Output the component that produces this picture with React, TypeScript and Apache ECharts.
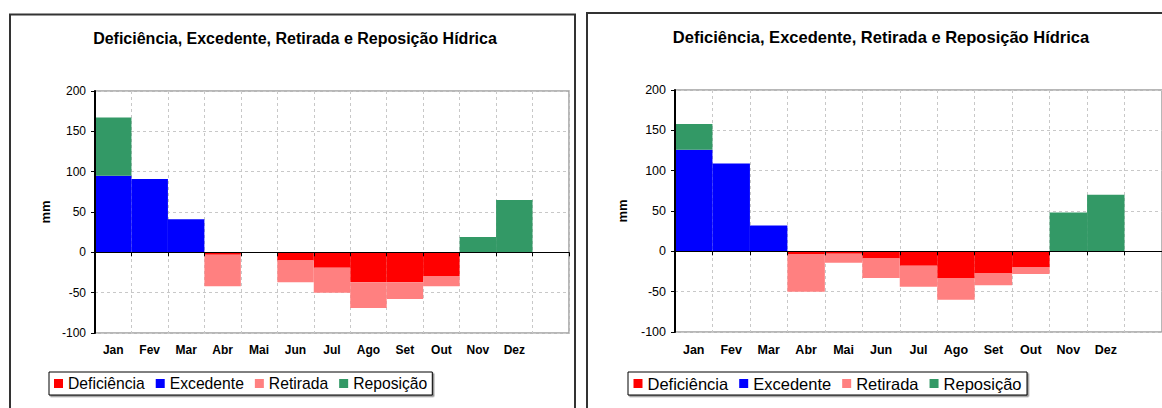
import React, { useEffect, useRef } from "react";
import * as echarts from "echarts";

const months = ["Jan", "Fev", "Mar", "Abr", "Mai", "Jun", "Jul", "Ago", "Set", "Out", "Nov", "Dez"];
const axisCategories = [...months, ""];
const seriesNames = ["Deficiência", "Excedente", "Retirada", "Reposição"];
const titleText = "Deficiência, Excedente, Retirada e Reposição Hídrica";
const yTicks = { min: -100, max: 200, interval: 50 };

// Left chart
const deficienciaA = [0, 0, 0, -3, 0, -10, -19, -37, -37, -30, 0, 0];
const excedenteA = [95, 91, 41, 0, 0, 0, 0, 0, 0, 0, 0, 0];
const retiradaA = [0, 0, 0, -39, 0, -27, -31, -32, -21, -12, 0, 0];
const reposicaoA = [72, 0, 0, 0, 0, 0, 0, 0, 0, 0, 19, 65];

// Right chart
const deficienciaB = [0, 0, 0, -4, -3, -9, -18, -33, -27, -20, 0, 0];
const excedenteB = [126, 109, 32, 0, 0, 0, 0, 0, 0, 0, 0, 0];
const retiradaB = [0, 0, 0, -46, -11, -24, -26, -27, -15, -8, 0, 0];
const reposicaoB = [32, 0, 0, 0, 0, 0, 0, 0, 0, 0, 48, 70];

const colors = ["#FF0000", "#0000FF", "#FF8080", "#339966"];
const FONT = "'Liberation Sans', Arial, sans-serif";

export default function App() {
  const ref = useRef<HTMLDivElement>(null);
  useEffect(() => {
    if (!ref.current) return;
    const chart = echarts.init(ref.current, undefined, { renderer: "svg" });

    const grids = [
      { left: 95, top: 91, width: 474, height: 242 },
      { left: 675, top: 90, width: 494, height: 242 },
    ];
    const sizes = [
      { label: 12, legend: 15.7, title: 16, gap: 11, lpad: [3.5, 5] },
      { label: 12.5, legend: 16.5, title: 16.5, gap: 11, lpad: [3, 5.5] },
    ];

    const xAxis: any[] = [];
    const yAxis: any[] = [];
    grids.forEach((g, i) => {
      xAxis.push({
        type: "category",
        gridIndex: i,
        data: axisCategories,
        position: "bottom",
        axisLine: { show: false, onZero: false },
        axisTick: { show: false },
        axisLabel: {
          color: "#000",
          fontWeight: "bold",
          fontSize: sizes[i].label,
          fontFamily: FONT,
          margin: 11,
          interval: 0,
        },
        splitLine: { show: true, lineStyle: { color: "#c8c8c8", type: [3, 3], width: 1 } },
        z: 0,
      });
      xAxis.push({
        type: "category",
        gridIndex: i,
        data: axisCategories,
        position: "top",
        axisLine: { show: true, onZero: true, lineStyle: { color: "#000", width: 1 } },
        axisTick: { show: true, inside: true, length: 4, lineStyle: { color: "#000" } },
        axisLabel: { show: false },
        splitLine: { show: false },
        z: 3,
      });
      yAxis.push({
        type: "value",
        gridIndex: i,
        position: "right",
        ...yTicks,
        axisLine: { show: false },
        axisTick: { show: false },
        axisLabel: { show: false },
        splitLine: { show: true, lineStyle: { color: "#c8c8c8", type: [3, 3], width: 1 } },
        z: 0,
      });
      yAxis.push({
        type: "value",
        gridIndex: i,
        position: "left",
        ...yTicks,
        name: "mm",
        nameLocation: "middle",
        nameGap: i === 0 ? 43 : 46,
        nameTextStyle: { color: "#000", fontWeight: "bold", fontSize: 13, fontFamily: FONT },
        axisLine: { show: true, onZero: false, lineStyle: { color: "#000", width: 2 } },
        axisTick: { show: true, length: 4, lineStyle: { color: "#000" } },
        axisLabel: { color: "#000", fontSize: sizes[i].label, fontFamily: FONT, margin: 9 },
        splitLine: { show: false },
        z: 3,
      });
    });

    const dataSets = [
      [deficienciaA, excedenteA, retiradaA, reposicaoA],
      [deficienciaB, excedenteB, retiradaB, reposicaoB],
    ];
    const series: any[] = [];
    dataSets.forEach((set, i) => {
      set.forEach((d, k) => {
        series.push({
          type: "bar",
          name: seriesNames[k],
          xAxisIndex: i * 2,
          yAxisIndex: i * 2,
          stack: "s" + i,
          data: d,
          barCategoryGap: "0%",
          itemStyle: { color: colors[k] },
          z: 2,
        });
      });
    });

    const legendPos = [
      { left: 49, top: 372 },
      { left: 628, top: 372 },
    ];

    chart.setOption({
      animation: false,
      color: colors,
      title: [
        {
          text: titleText,
          left: 290,
          top: 25,
          textAlign: "center",
          textStyle: { color: "#000", fontWeight: "bold", fontSize: sizes[0].title, fontFamily: FONT },
        },
        {
          text: titleText,
          left: 876,
          top: 23,
          textAlign: "center",
          textStyle: { color: "#000", fontWeight: "bold", fontSize: sizes[1].title, fontFamily: FONT },
        },
      ],
      legend: legendPos.map((p, i) => ({
        ...p,
        data: seriesNames,
        orient: "horizontal",
        icon: "rect",
        itemWidth: 9,
        itemHeight: 9,
        itemGap: sizes[i].gap,
        padding: sizes[i].lpad,
        backgroundColor: "#fff",
        borderColor: "#000",
        borderWidth: 1,
        shadowColor: "rgba(0,0,0,0.45)",
        shadowOffsetX: 1.5,
        shadowOffsetY: 1.5,
        shadowBlur: 0,
        selectedMode: false,
        textStyle: { color: "#000", fontSize: sizes[i].legend, fontFamily: FONT },
      })),
      grid: grids.map((g) => ({
        ...g,
        show: true,
        borderColor: "#a0a0a0",
        borderWidth: 1.5,
        backgroundColor: "transparent",
      })),
      xAxis,
      yAxis,
      series,
      graphic: [
        {
          type: "rect",
          shape: { x: 10, y: 14.5, width: 565, height: 420 },
          style: { fill: "none", stroke: "#333", lineWidth: 2 },
          silent: true,
        },
        {
          type: "rect",
          shape: { x: 587, y: 13, width: 600, height: 420 },
          style: { fill: "none", stroke: "#333", lineWidth: 2 },
          silent: true,
        },
      ],
    });
    return () => chart.dispose();
  }, []);

  return (
    <div
      ref={ref}
      style={{ position: "fixed", left: 0, top: 0, width: 1162, height: 408, background: "#fff" }}
    />
  );
}
